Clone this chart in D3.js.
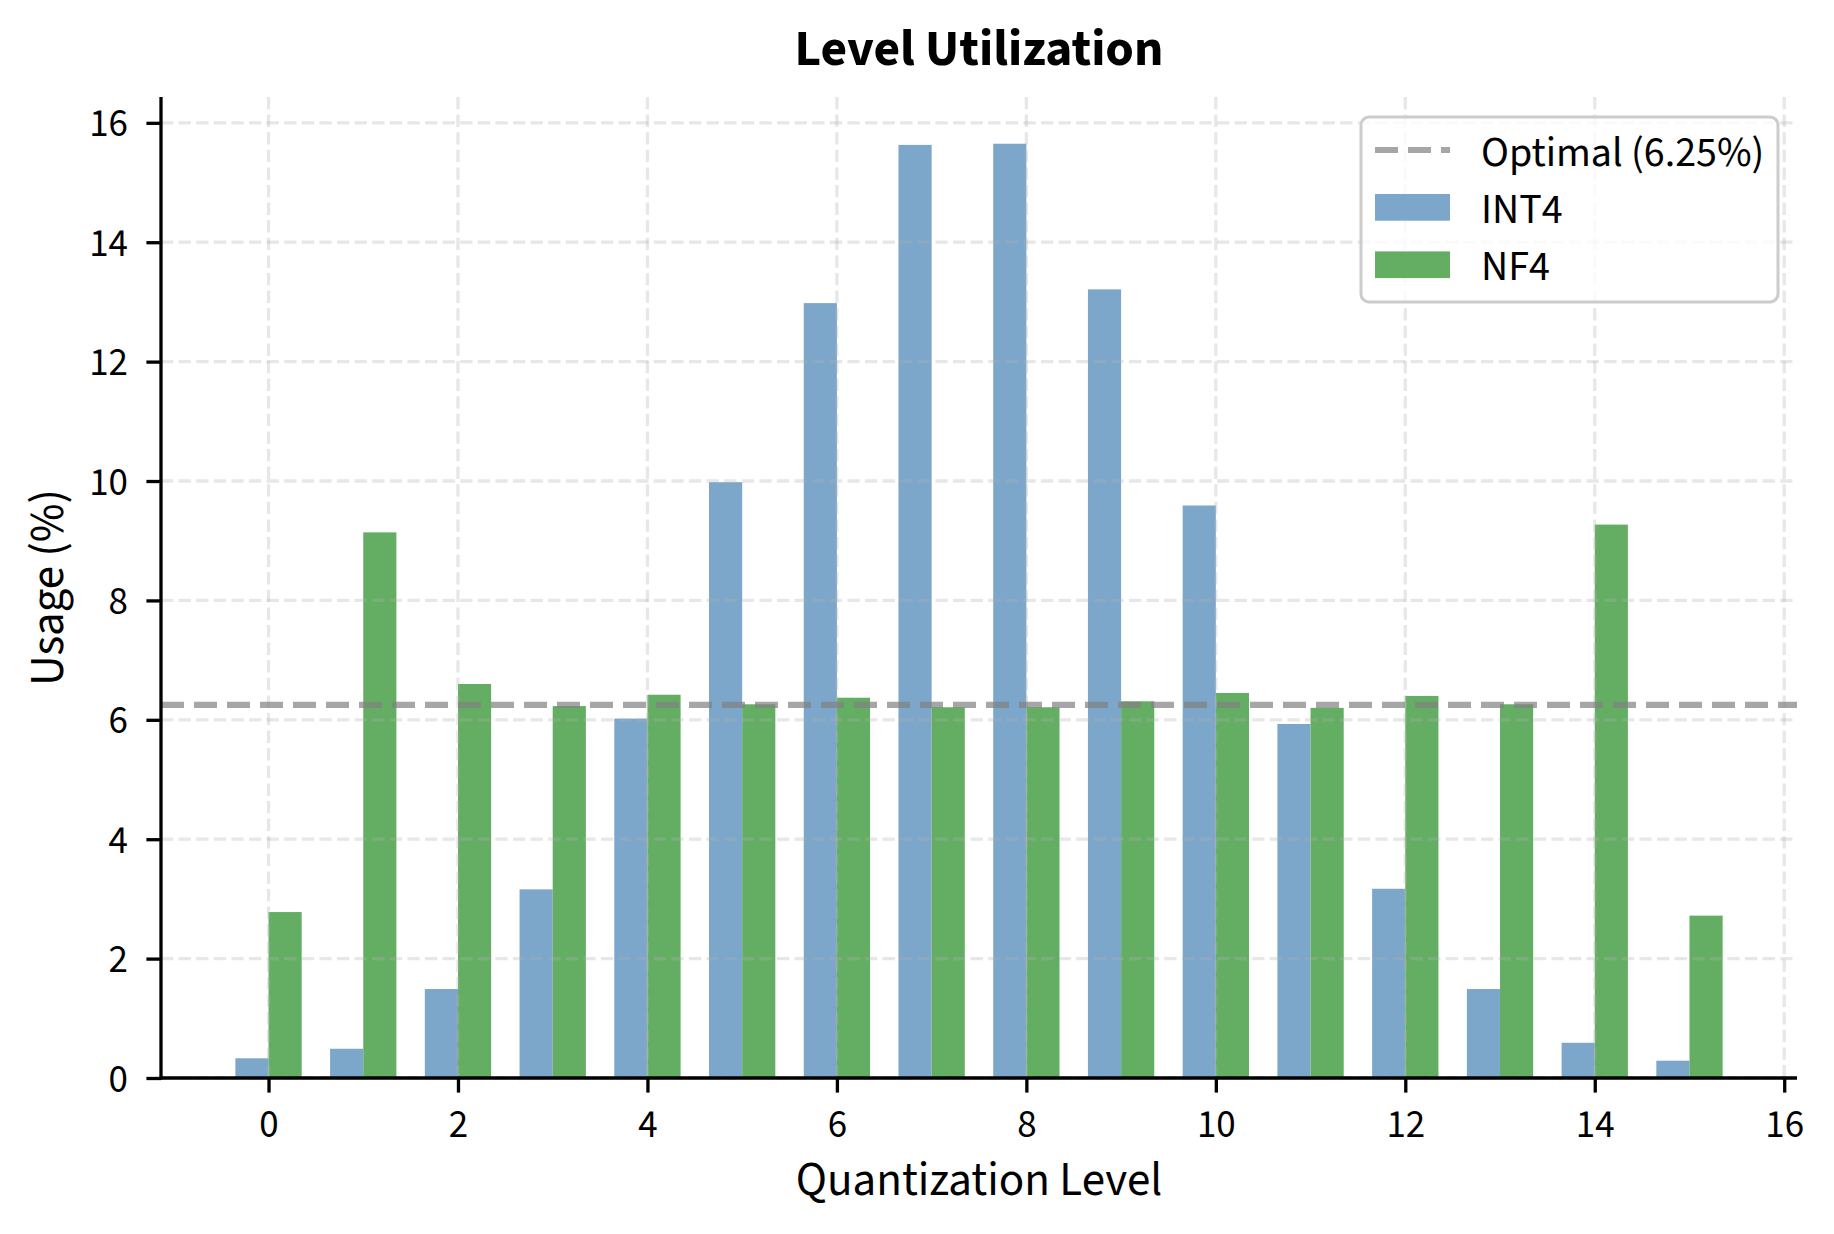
<!DOCTYPE html>
<html>
<head>
<meta charset="utf-8">
<script src="https://cdn.jsdelivr.net/npm/d3@7"></script>
<style>
  html, body { margin: 0; padding: 0; background: #ffffff; }
  svg { display: block; }
  text { font-family: "Source Sans Pro", "Source Sans 3", Lato, sans-serif; fill: #000; }
</style>
</head>
<body>
<svg id="chart" width="1834" height="1234"></svg>
<script>
// ---------------- data ----------------
const levels = [0, 1, 2, 3, 4, 5, 6, 7, 8, 9, 10, 11, 12, 13, 14, 15];
const int4Usage = [0.33, 0.49, 1.49, 3.16, 6.02, 9.98, 12.98, 15.63, 15.65, 13.21, 9.59, 5.93, 3.17, 1.49, 0.59, 0.29];
const nf4Usage  = [2.78, 9.14, 6.60, 6.23, 6.42, 6.26, 6.37, 6.21, 6.21, 6.31, 6.45, 6.20, 6.40, 6.26, 9.27, 2.72];
const optimalUsage = 6.25;
const xTicks = [0, 2, 4, 6, 8, 10, 12, 14, 16];
const yTicks = [0, 2, 4, 6, 8, 10, 12, 14, 16];
const seriesNames = ["INT4", "NF4"];
const optimalLabel = "Optimal (6.25%)";
const titleText = "Level Utilization";
const xLabelText = "Quantization Level";
const yLabelText = "Usage (%)";

// ---------------- layout ----------------
const W = 1834, H = 1234;
const plot = { left: 161, right: 1797, top: 97, bottom: 1078 };
const barW = 0.35;
const colors = { INT4: "#7da7ca", NF4: "#64ae64" };
const fs = { tick: 39, legend: 42, label: 47, title: 51.5 };
const FONT = '"Source Sans Pro", "Source Sans 3", Lato, sans-serif';

const svg = d3.select("#chart");
svg.append("rect").attr("width", W).attr("height", H).attr("fill", "#fff");

const span = levels.length - 1 + 2 * barW;
const xMin = -barW - 0.05 * span, xMax = levels.length - 1 + barW + 0.05 * span;
const x = d3.scaleLinear().domain([xMin, xMax]).range([plot.left, plot.right]);
const yMax = d3.max(int4Usage.concat(nf4Usage)) * 1.05;
const y = d3.scaleLinear().domain([0, yMax]).range([plot.bottom, plot.top]);

// ---------------- bars ----------------
const g = svg.append("g");
g.selectAll("rect.int4").data(levels).join("rect")
  .attr("class", "int4")
  .attr("x", d => x(d - barW))
  .attr("width", d => x(d) - x(d - barW))
  .attr("y", (d, i) => y(int4Usage[i]))
  .attr("height", (d, i) => y(0) - y(int4Usage[i]))
  .attr("fill", colors.INT4);
g.selectAll("rect.nf4").data(levels).join("rect")
  .attr("class", "nf4")
  .attr("x", d => x(d))
  .attr("width", d => x(d + barW) - x(d))
  .attr("y", (d, i) => y(nf4Usage[i]))
  .attr("height", (d, i) => y(0) - y(nf4Usage[i]))
  .attr("fill", colors.NF4);

// ---------------- grid (above bars) ----------------
const grid = svg.append("g").attr("stroke", "#b0b0b0").attr("stroke-opacity", 0.3)
  .attr("stroke-width", 3.3).attr("stroke-dasharray", "12.3,5.3");
grid.selectAll("line.gx").data(xTicks).join("line")
  .attr("x1", d => x(d)).attr("x2", d => x(d))
  .attr("y1", plot.top).attr("y2", plot.bottom);
grid.selectAll("line.gy").data(yTicks).join("line")
  .attr("y1", d => y(d)).attr("y2", d => y(d))
  .attr("x1", plot.left).attr("x2", plot.right);

// ---------------- optimal line ----------------
svg.append("line")
  .attr("x1", plot.left).attr("x2", plot.right)
  .attr("y1", y(optimalUsage)).attr("y2", y(optimalUsage))
  .attr("stroke", "#808080").attr("stroke-opacity", 0.7)
  .attr("stroke-width", 6.2).attr("stroke-dasharray", "23,10");

// ---------------- axes ----------------
const xAxis = svg.append("g").attr("transform", `translate(0,${plot.bottom})`)
  .call(d3.axisBottom(x).tickValues(xTicks).tickFormat(d3.format("d")).tickSize(14.6).tickSizeOuter(0));
xAxis.select(".domain").remove();
xAxis.selectAll(".tick line").attr("stroke", "#000").attr("stroke-width", 3.3);
xAxis.selectAll(".tick text").attr("y", 58.5).attr("dy", 0)
  .attr("font-size", fs.tick).attr("fill", "#000").style("font-family", FONT);

const yAxis = svg.append("g").attr("transform", `translate(${plot.left},0)`)
  .call(d3.axisLeft(y).tickValues(yTicks).tickFormat(d3.format("d")).tickSize(14.6).tickSizeOuter(0));
yAxis.select(".domain").remove();
yAxis.selectAll(".tick line").attr("stroke", "#000").attr("stroke-width", 3.3);
yAxis.selectAll(".tick text").attr("x", -33).attr("dy", 0).attr("y", 13)
  .attr("font-size", fs.tick).attr("fill", "#000").style("font-family", FONT);

// spines
svg.append("line").attr("x1", plot.left - 1.6).attr("x2", plot.right)
  .attr("y1", plot.bottom).attr("y2", plot.bottom)
  .attr("stroke", "#000").attr("stroke-width", 3.3);
svg.append("line").attr("x1", plot.left).attr("x2", plot.left)
  .attr("y1", plot.top).attr("y2", plot.bottom + 1.6)
  .attr("stroke", "#000").attr("stroke-width", 3.3);

// ---------------- labels ----------------
const cx = (plot.left + plot.right) / 2;
svg.append("text").attr("x", cx).attr("y", 65).attr("text-anchor", "middle")
  .attr("font-size", fs.title).attr("font-weight", "bold").text(titleText);
svg.append("text").attr("x", cx).attr("y", 1195).attr("text-anchor", "middle")
  .attr("font-size", fs.label).text(xLabelText);
svg.append("text").attr("transform", `translate(63,${(plot.top + plot.bottom) / 2}) rotate(-90)`)
  .attr("text-anchor", "middle").attr("font-size", fs.label).text(yLabelText);

// ---------------- legend ----------------
const leg = svg.append("g");
leg.append("rect").attr("x", 1361).attr("y", 117).attr("width", 417).attr("height", 185)
  .attr("rx", 8).attr("ry", 8)
  .attr("fill", "#fff").attr("fill-opacity", 0.8)
  .attr("stroke", "#cccccc").attr("stroke-width", 3);
const rows = [
  { label: optimalLabel, type: "line" },
  { label: seriesNames[0], type: "rect", color: colors.INT4 },
  { label: seriesNames[1], type: "rect", color: colors.NF4 }
];
const rowY = [150, 207.3, 264.7];
rows.forEach((r, i) => {
  const cy = rowY[i];
  if (r.type === "line") {
    leg.append("line").attr("x1", 1375).attr("x2", 1450).attr("y1", cy).attr("y2", cy)
      .attr("stroke", "#808080").attr("stroke-opacity", 0.7)
      .attr("stroke-width", 6.2).attr("stroke-dasharray", "23,10");
  } else {
    leg.append("rect").attr("x", 1375).attr("y", cy - 13.3).attr("width", 75).attr("height", 26.7)
      .attr("fill", r.color);
  }
  leg.append("text").attr("x", 1481).attr("y", cy + 15.5).attr("font-size", fs.legend).text(r.label);
});
</script>
</body>
</html>
